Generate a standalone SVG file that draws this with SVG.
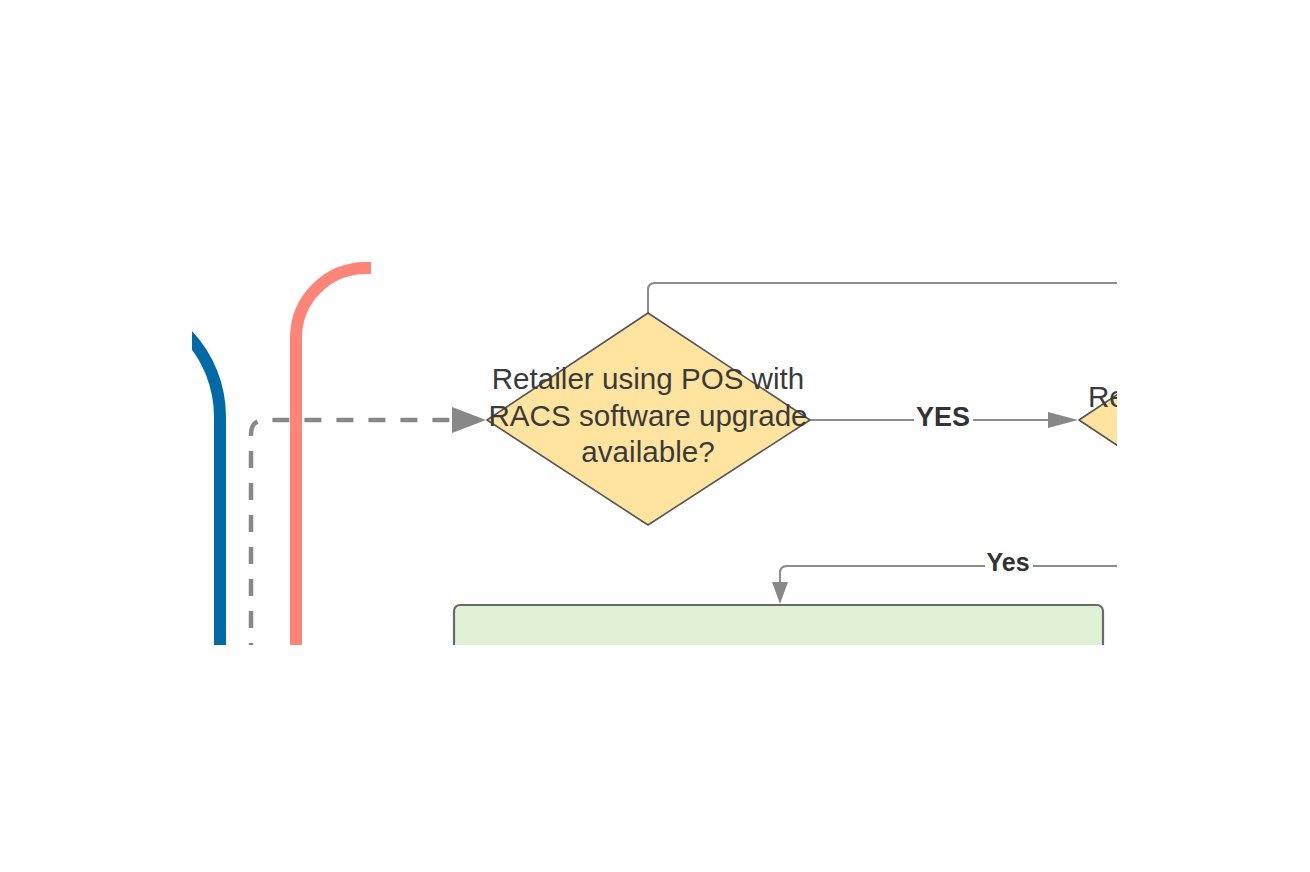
<svg xmlns="http://www.w3.org/2000/svg" width="1310" height="872" viewBox="0 0 1310 872">
<style>
.lbl{font-family:"Liberation Sans",Arial,sans-serif;fill:#3a3a3a;text-anchor:middle}
.dtext{font-size:29.6px}
.conn{fill:none;stroke:#8c8c8c;stroke-width:2}
.dia{fill:#ffe49f;stroke:#555;stroke-width:1.6;stroke-linejoin:round}
.elbl{font-family:"Liberation Sans",Arial,sans-serif;font-weight:bold;fill:#333;text-anchor:middle}
</style>
<defs>
<clipPath id="view"><rect x="192" y="0" width="925" height="645"/></clipPath>
</defs>
<rect width="1310" height="872" fill="#fff"/>
<g clip-path="url(#view)">
<g id="lanes">
<path d="M100 297 A120 120 0 0 1 220 417 V660" fill="none" stroke="#006aa9" stroke-width="12"/>
<path d="M296 660 V338 A70 70 0 0 1 366 268 H371" fill="none" stroke="#ff8478" stroke-width="12"/>
</g>
<g id="connectors">
<path d="M251 660 V434 Q251 420 265 420 H455" fill="none" stroke="#888" stroke-width="4.5" stroke-dasharray="17 15"/>
<polygon points="452,407 486,420 452,433" fill="#888"/>
<path class="conn" d="M648 313 V290 Q648 283 655 283 H1130"/>
<path class="conn" d="M810 420 H1050" stroke="#999"/>
<polygon points="1048,412 1078,420 1048,428" fill="#888"/>
<rect x="914" y="404" width="59" height="26" fill="#fff"/>
<text class="elbl" x="943" y="426" font-size="27">YES</text>
<path class="conn" d="M1130 566 H787 Q780 566 780 573 V585"/>
<polygon points="772,582 788,582 780,604" fill="#888"/>
<rect x="985" y="552" width="48" height="24" fill="#fff"/>
<text class="elbl" x="1008" y="571" font-size="25">Yes</text>
</g>
<g id="decision1">
<polygon class="dia" points="648,313 810,420 648,525 487,420"/>
<text class="lbl dtext" x="648" y="389">Retailer using POS with</text>
<text class="lbl dtext" x="648" y="426">RACS software upgrade</text>
<text class="lbl dtext" x="648" y="462">available?</text>
</g>
<g id="decision2">
<polygon class="dia" points="1240,313 1401,420 1240,527 1079,420"/>
<text class="dtext" x="1088" y="407" font-family="Liberation Sans, Arial, sans-serif" fill="#3a3a3a">Re</text>
</g>
<g id="process1">
<rect x="454" y="605" width="649" height="120" rx="6" fill="#e0f0d4" stroke="#6a6a6a" stroke-width="2.2"/>
</g>
</g>
</svg>
